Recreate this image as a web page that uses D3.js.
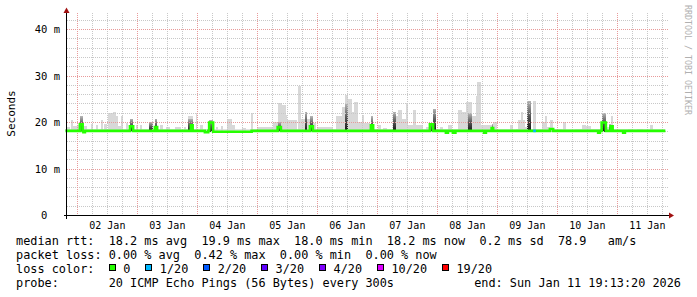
<!DOCTYPE html>
<html>
<head>
<meta charset="utf-8">
<script src="https://cdn.jsdelivr.net/npm/d3@7"></script>
<style>
    html, body { margin: 0; padding: 0; background: #fff; }
    svg { display: block; font-family: "DejaVu Sans Mono", monospace; }
    text { white-space: pre; }
</style>
</head>
<body>
<svg id="chart" width="697" height="297"></svg>
<script>
// smokeping graph: 10 days, median rtt + smoke

const endTime = new Date(2026, 0, 11, 19, 13, 20);
const startTime = new Date(+endTime - 240 * 3600e3);

const yTicks = [0, 10, 20, 30, 40];
const yTickLabels = ['0  ', '10 m', '20 m', '30 m', '40 m'];
const dayLabels = ['02 Jan', '03 Jan', '04 Jan', '05 Jan', '06 Jan', '07 Jan', '08 Jan', '09 Jan', '10 Jan', '11 Jan'];

// values in ms, times in hours after startTime
const medianBase = 18.2;
const smokeBase = 18.7;

// [from h, to h, max ping ms]
const lightSmoke = [
    [0.5, 1.8, 19.0], [2.2, 2.9, 20.5], [3.2, 4.5, 19.2], [4.8, 5.8, 19.5], [5.8, 6.9, 21.3], [6.9, 8.7, 19.2],
    [10.2, 10.9, 19.6], [12.2, 13.2, 19.4], [14.2, 14.9, 20.5], [15.5, 16.5, 19.6], [16.9, 18.9, 22.0], [18.9, 20.2, 22.3],
    [20.2, 21.1, 21.3], [21.1, 22.2, 19.2], [22.2, 22.9, 21.3], [24.2, 25.1, 19.8], [25.8, 27.1, 20.8], [28.2, 29.1, 19.4],
    [29.8, 30.7, 19.4], [33.5, 34.9, 20.1], [35.8, 36.7, 20.8], [37.8, 39.1, 19.4], [40.2, 41.8, 19.0], [43.8, 46.1, 19.0],
    [47.5, 48.2, 19.0], [49.1, 50.9, 21.3], [52.2, 52.7, 22.0], [53.8, 55.1, 19.4], [57.5, 59.1, 20.5],
    [60.3, 61.1, 19.0], [62.1, 63.1, 19.2], [64.7, 66.5, 20.7], [66.5, 67.8, 19.4], [70.5, 72.2, 18.9], [74.2, 74.9, 22.0],
    [76.5, 83.1, 19.0], [83.1, 85.1, 20.1], [85.1, 86.5, 24.1], [86.5, 88.2, 23.7], [88.2, 88.7, 21.6], [88.7, 92.7, 20.6],
    [92.9, 94.1, 27.8], [94.1, 95.8, 20.8], [95.8, 96.7, 22.3], [96.7, 97.8, 20.8], [97.8, 99.0, 21.3], [99.0, 100.2, 19.8],
    [100.5, 107.1, 19.0], [108.2, 110.5, 21.4], [110.5, 111.8, 23.4], [111.8, 113.1, 26.0], [113.1, 114.5, 25.1],
    [114.5, 115.5, 22.3], [115.5, 117.1, 24.4], [117.1, 118.5, 20.1], [118.5, 119.5, 21.6], [119.5, 121.8, 19.8],
    [122.2, 123.1, 21.3], [123.1, 124.5, 18.7], [125.1, 126.1, 19.4], [126.9, 128.5, 18.9], [130.9, 132.2, 22.3],
    [132.2, 133.1, 21.3], [133.1, 134.5, 22.6], [134.5, 136.2, 20.8], [136.2, 137.1, 24.1], [137.1, 138.9, 19.4],
    [138.9, 140.2, 22.6], [140.2, 141.8, 19.5], [141.8, 142.9, 19.4], [144.2, 145.5, 19.0], [145.8, 146.9, 19.4],
    [146.9, 148.3, 23.0], [148.3, 149.8, 18.7], [149.8, 151.1, 19.0], [153.1, 154.5, 19.4], [156.9, 158.5, 22.6],
    [158.5, 160.2, 22.3], [160.2, 161.1, 24.4], [161.1, 162.5, 24.4], [162.5, 164.2, 21.3], [164.2, 164.6, 25.6],
    [164.6, 166.2, 28.7], [166.2, 168.2, 19.4], [168.2, 170.5, 19.4], [170.5, 171.1, 19.6], [171.1, 172.5, 20.1],
    [177.8, 179.1, 19.4], [180.2, 181.1, 18.7], [181.1, 182.2, 20.5], [182.2, 182.9, 22.3], [182.9, 183.8, 20.5],
    [183.8, 184.7, 19.0], [184.7, 186.1, 24.7], [186.1, 186.9, 18.5], [186.9, 188.2, 24.7], [188.2, 190.5, 18.7],
    [190.5, 191.8, 20.1], [191.8, 192.5, 21.3], [192.5, 193.8, 19.0], [193.8, 195.1, 20.5], [195.1, 198.5, 18.7],
    [198.9, 200.2, 20.1], [203.8, 206.5, 18.7], [206.5, 208.2, 19.4], [208.2, 210.2, 19.2], [210.2, 214.5, 18.7],
    [214.5, 216.2, 22.0], [216.2, 217.5, 19.0], [217.5, 218.1, 19.6], [218.1, 218.9, 21.3], [225.1, 226.5, 18.7],
    [228.5, 231.0, 18.7], [233.8, 234.9, 19.4]
];

// [from h, to h, top of dense smoke ms]
const darkSmoke = [
    [5.8, 6.9, 21.3], [25.8, 27.1, 20.8], [33.5, 34.9, 20.1], [35.8, 36.7, 20.8], [49.1, 50.9, 20.8], [57.5, 59.1, 20.5],
    [84.9, 86.2, 20.1], [95.8, 96.7, 22.3], [97.8, 99.0, 21.3], [111.8, 113.1, 24.0], [122.2, 123.1, 21.3],
    [130.9, 132.2, 22.3], [145.8, 147.1, 19.8], [146.9, 148.3, 23.0], [161.1, 162.5, 22.0], [170.5, 171.1, 19.6],
    [184.7, 186.1, 24.7], [214.5, 216.2, 22.0], [217.5, 218.1, 19.6]
];

// [from h, to h, median ms, loss index]
const medianSteps = [
    [5.8, 6.9, 19.6, 0], [7.2, 7.8, 17.9, 0], [25.8, 27.1, 19.2, 0], [35.8, 36.7, 19.0, 0], [50.2, 50.9, 19.4, 0],
    [55.8, 57.1, 17.9, 0], [57.5, 59.1, 20.0, 0], [59.1, 74.5, 18.0, 0], [84.9, 86.2, 19.0, 0], [97.8, 99.0, 19.2, 0],
    [122.2, 123.1, 19.4, 0], [145.8, 147.1, 19.6, 0], [152.2, 153.0, 17.8, 0], [155.0, 156.0, 17.8, 0],
    [167.5, 168.2, 17.8, 0], [170.5, 171.1, 18.8, 0], [187.1, 188.2, 18.2, 1], [193.8, 195.1, 18.6, 0],
    [213.1, 213.8, 17.8, 0], [214.5, 216.2, 20.0, 0], [218.1, 218.9, 19.2, 0], [223.1, 223.8, 17.8, 0]
];

const lossLabels = ['0', '1/20', '2/20', '3/20', '4/20', '10/20', '19/20'];
const lossColors = ['#26ff00', '#00b8ff', '#0059ff', '#5e00ff', '#7e00ff', '#dd00ff', '#ff0000'];
const rttStats = [['18.2', 'ms avg'], ['19.9', 'ms max'], ['18.0', 'ms min'], ['18.2', 'ms now'], ['0.2', 'ms sd'], ['78.9', '  am/s']];
const lossStats = [['0.00', 'avg'], ['0.42', 'max'], ['0.00', 'min'], ['0.00', 'now']];
const probeText = '20 ICMP Echo Pings (56 Bytes) every 300s';
const endText = 'end: Sun Jan 11 19:13:20 2026';

const svg = d3.select('#chart');
const hourToDate = (h) => new Date(+startTime + h * 3600e3);

const x = d3.scaleTime().domain([startTime, endTime]).range([65.4, 665.4]);
const y = d3.scaleLinear().domain([0, 40]).range([215.5, 29.5]);
const plotTop = 13;
const px = (v) => Math.floor(v) + 0.5;

const defs = svg.append('defs');
const grad = defs.append('linearGradient')
    .attr('id', 'denseSmoke')
    .attr('x1', 0).attr('y1', 1).attr('x2', 0).attr('y2', 0);
grad.append('stop').attr('offset', 0).attr('stop-color', '#111');
grad.append('stop').attr('offset', 0.5).attr('stop-color', '#555');
grad.append('stop').attr('offset', 1).attr('stop-color', '#b4b4b4');

// smoke
const g = svg.append('g').attr('shape-rendering', 'crispEdges');
g.append('rect')
    .attr('x', x(hourToDate(0)))
    .attr('width', x(hourToDate(240)) - x(hourToDate(0)))
    .attr('y', y(smokeBase))
    .attr('height', y(medianBase) - y(smokeBase))
    .attr('fill', '#e2e2e2');
g.selectAll('rect.light').data(lightSmoke).enter().append('rect')
    .attr('class', 'light')
    .attr('x', (d) => x(hourToDate(d[0])))
    .attr('width', (d) => x(hourToDate(d[1])) - x(hourToDate(d[0])))
    .attr('y', (d) => y(d[2]))
    .attr('height', (d) => y(medianBase) - y(d[2]))
    .attr('fill', '#d8d8d8');
g.selectAll('rect.dense').data(darkSmoke).enter().append('rect')
    .attr('class', 'dense')
    .attr('x', (d) => x(hourToDate(d[0])))
    .attr('width', (d) => x(hourToDate(d[1])) - x(hourToDate(d[0])))
    .attr('y', (d) => y(d[2]))
    .attr('height', (d) => y(medianBase) - y(d[2]) + 1)
    .attr('fill', 'url(#denseSmoke)');

// grid
const grid = svg.append('g').attr('shape-rendering', 'crispEdges').attr('stroke-dasharray', '1,1');
const minorY = d3.range(0, 44, 2).filter((v) => v % 10 !== 0);
grid.selectAll('line.hy').data(minorY).enter().append('line')
    .attr('x1', 67).attr('x2', 668)
    .attr('y1', (d) => px(y(d))).attr('y2', (d) => px(y(d)))
    .attr('stroke', '#c8c8c8');
const hours = d3.timeHour.every(6).range(startTime, endTime);
grid.selectAll('line.vx').data(hours.filter((d) => d.getHours() !== 0)).enter().append('line')
    .attr('x1', (d) => px(x(d))).attr('x2', (d) => px(x(d)))
    .attr('y1', plotTop).attr('y2', 215)
    .attr('stroke', '#c8c8c8');
grid.selectAll('line.my').data(yTicks.slice(1)).enter().append('line')
    .attr('x1', 67).attr('x2', 668)
    .attr('y1', (d) => px(y(d))).attr('y2', (d) => px(y(d)))
    .attr('stroke', '#e89a9a');
grid.selectAll('line.mx').data(hours.filter((d) => d.getHours() === 0)).enter().append('line')
    .attr('x1', (d) => px(x(d))).attr('x2', (d) => px(x(d)))
    .attr('y1', plotTop).attr('y2', 215)
    .attr('stroke', '#e89a9a');

// median line
const medianPts = [[0, medianBase]];
medianSteps.slice().sort((a, b) => a[0] - b[0]).forEach(([h0, h1, v]) => {
    medianPts.push([h0, v], [h1, medianBase]);
});
medianPts.push([240, medianBase]);
const line = d3.line()
    .x((d) => x(hourToDate(d[0])))
    .y((d) => y(d[1]))
    .curve(d3.curveStepAfter);
svg.append('path')
    .attr('d', line(medianPts))
    .attr('fill', 'none')
    .attr('stroke', lossColors[0])
    .attr('stroke-width', 2.6);
svg.selectAll('path.loss').data(medianSteps.filter((d) => d[3] > 0)).enter().append('path')
    .attr('class', 'loss')
    .attr('d', (d) => line([[d[0], d[2]], [d[1], d[2]]]))
    .attr('fill', 'none')
    .attr('stroke', (d) => lossColors[d[3]])
    .attr('stroke-width', 2.6);

// axes
const axes = svg.append('g').attr('shape-rendering', 'crispEdges').attr('stroke', '#000');
axes.append('line').attr('x1', 66.5).attr('x2', 66.5).attr('y1', 10).attr('y2', 219);
axes.append('line').attr('x1', 64).attr('x2', 670).attr('y1', 215.5).attr('y2', 215.5);
svg.append('path').attr('d', 'M63.5,13 L69.5,13 L66.5,7.5 Z').attr('fill', '#a01010');
svg.append('path').attr('d', 'M669,212.5 L669,218.5 L674,215.5 Z').attr('fill', '#a01010');

svg.selectAll('text.ytick').data(yTicks).enter().append('text')
    .attr('x', 60)
    .attr('y', (d) => y(d) + 3.7)
    .attr('text-anchor', 'end')
    .attr('font-size', '10.5px')
    .attr('fill', '#000')
    .text((d, i) => yTickLabels[i]);

const days = d3.timeDay.range(startTime, endTime);
svg.selectAll('text.xtick').data(days).enter().append('text')
    .attr('x', (d) => x(new Date(+d + 12 * 3600e3)))
    .attr('y', 228.5)
    .attr('text-anchor', 'middle')
    .attr('font-size', '10px')
    .attr('fill', '#000')
    .text((d, i) => dayLabels[i]);

svg.append('text')
    .attr('transform', 'translate(15,113.5) rotate(-90)')
    .attr('text-anchor', 'middle')
    .attr('font-size', '11px')
    .attr('fill', '#000')
    .text('Seconds');

svg.append('text')
    .attr('transform', 'translate(684.5,5) rotate(90)')
    .attr('font-size', '8.3px')
    .attr('fill', '#b0b0b0')
    .text('RRDTOOL / TOBI OETIKER');

// legend
const fs = 11.85;
const cw = fs * 0.602;
const legend = svg.append('g').attr('font-size', fs + 'px').attr('fill', '#000');
legend.append('text').attr('x', 16).attr('y', 244.7)
    .text('median rtt:  ' + rttStats.map(([v, u]) => v + ' ' + u).join('  '));
legend.append('text').attr('x', 16).attr('y', 258.7)
    .text('packet loss: ' + lossStats.map(([v, u]) => v + ' % ' + u).join('  '));
legend.append('text').attr('x', 16).attr('y', 272.7).text('loss color:');
let lx = 108.7;
lossLabels.forEach((label, i) => {
    legend.append('rect')
        .attr('x', lx + 0.5).attr('y', 264.5)
        .attr('width', 6).attr('height', 6)
        .attr('fill', lossColors[i])
        .attr('stroke', '#000')
        .attr('shape-rendering', 'crispEdges');
    legend.append('text').attr('x', lx + 14.6).attr('y', 272.7).text(label);
    lx += 14.6 + label.length * cw + 2 * cw + 0.5;
});
legend.append('text').attr('x', 16).attr('y', 286.5).text('probe:       ' + probeText);
legend.append('text').attr('x', 681).attr('y', 286.5).attr('text-anchor', 'end').text(endText);
</script>
</body>
</html>
